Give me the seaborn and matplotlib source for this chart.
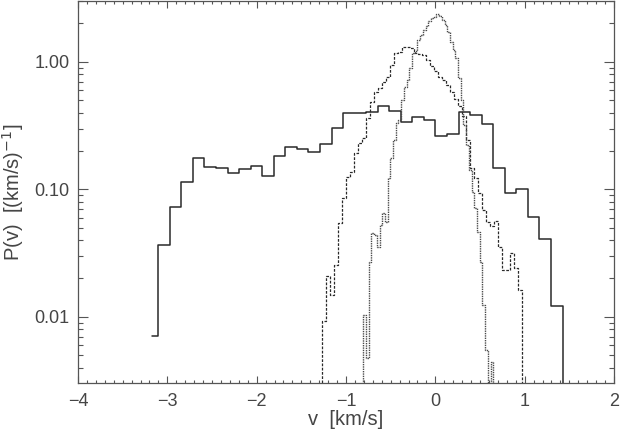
import numpy as np
import pandas as pd
import matplotlib
matplotlib.use('Agg')
import matplotlib.pyplot as plt
import matplotlib.ticker as mticker
import seaborn as sns

# ------------------------------------------------------------
# Data: histogram values P(v)
# ------------------------------------------------------------
# wide distribution (solid), bins of ~0.129 km/s starting at v=-3.166
solid_v0, solid_dv = -3.166, 0.1293
solid_p = [0.0071, 0.0367, 0.0725, 0.1145, 0.1766, 0.150, 0.148, 0.1346,
           0.1456, 0.1537, 0.1268, 0.181, 0.2167, 0.208, 0.197, 0.2275,
           0.302, 0.400, 0.400, 0.405, 0.452, 0.413, 0.336, 0.372,
           0.349, 0.264, 0.272, 0.405, 0.382, 0.326, 0.148, 0.094,
           0.100, 0.0612, 0.0407, 0.0122, 0.0]

# medium distribution (dashed), bins of ~0.045 km/s starting at v=-1.25
dash_v0, dash_dv = -1.25, 0.0448
dash_p = [0.0, 0.0092, 0.0211, 0.0149, 0.0256, 0.0549, 0.0853, 0.126, 0.1364,
          0.1923, 0.2296, 0.2512, 0.3618, 0.4814, 0.585, 0.622, 0.7006,
          0.7586, 0.947, 1.170, 1.204, 1.299, 1.299, 1.295, 1.176, 1.149,
          1.124, 1.037, 0.930, 0.850, 0.763, 0.722, 0.660, 0.582, 0.513,
          0.452, 0.377, 0.2445, 0.1475, 0.1225, 0.0933, 0.069, 0.0556,
          0.0517, 0.0566, 0.0354, 0.0234, 0.0234, 0.0318, 0.0241, 0.0163,
          0.0]

# narrow distribution (dotted), bins of ~0.030 km/s starting at v=-0.79
dot_v0, dot_dv = -0.791, 0.0303
dot_p = [0.0, 0.0104, 0.0048, 0.0270, 0.0456, 0.0440, 0.0354, 0.0527, 0.0654,
         0.0556, 0.1231, 0.1767, 0.2445, 0.3324, 0.351, 0.5035, 0.637,
         0.722, 0.897, 1.176, 1.22, 1.488, 1.628, 1.782, 1.898, 2.097,
         2.194, 2.254, 2.379, 2.296, 2.135, 1.950, 1.719, 1.435, 1.242,
         1.075, 0.749, 0.5035, 0.3206, 0.2234, 0.1422, 0.0956, 0.0716,
         0.0464, 0.0270, 0.0124, 0.0055, 0.0, 0.0044, 0.0]


def centres(v0, dv, p, lead_zero):
    start = v0 - dv if lead_zero else v0
    return start + dv * np.arange(len(p))


solid = pd.DataFrame({'v': centres(solid_v0, solid_dv, solid_p, False), 'p': solid_p})
dash = pd.DataFrame({'v': centres(dash_v0, dash_dv, dash_p, True), 'p': dash_p})
dot = pd.DataFrame({'v': centres(dot_v0, dot_dv, dot_p, True), 'p': dot_p})

# ------------------------------------------------------------
# Figure
# ------------------------------------------------------------
sns.set_style('ticks')
plt.rcParams['font.family'] = ['Liberation Sans', 'DejaVu Sans']
text_col = '#454545'
line_col = '#2a2a2a'

fig = plt.figure(figsize=(6.21, 4.37), dpi=100)
ax = fig.add_axes([0.1256, 0.1236, 0.8631, 0.8741])

sns.lineplot(data=solid, x='v', y='p', ax=ax, estimator=None, sort=False,
             color=line_col, lw=1.1, drawstyle='steps-mid')
sns.lineplot(data=dash, x='v', y='p', ax=ax, estimator=None, sort=False,
             color=line_col, lw=0.9, drawstyle='steps-mid',
             linestyle=(0, (2.2, 1.2)))
sns.lineplot(data=dot, x='v', y='p', ax=ax, estimator=None, sort=False,
             color='#4a4a4a', lw=1.0, drawstyle='steps-mid',
             linestyle=(0, (1, 0.7)))

ax.set_yscale('log')
ax.set_xlim(-4, 2)
ax.set_ylim(0.00303, 3.0)

ax.xaxis.set_major_locator(mticker.MultipleLocator(1))
ax.xaxis.set_minor_locator(mticker.MultipleLocator(0.1))
ax.yaxis.set_major_locator(mticker.FixedLocator([0.01, 0.1, 1.0]))
ax.yaxis.set_major_formatter(mticker.FixedFormatter(['0.01', '0.10', '1.00']))
ax.yaxis.set_minor_locator(mticker.LogLocator(base=10, subs=np.arange(2, 10)))
ax.yaxis.set_minor_formatter(mticker.NullFormatter())

ax.tick_params(which='both', direction='in', top=True, right=True,
               color='#555555', width=0.8, labelcolor=text_col, labelsize=13)
ax.tick_params(axis='y', which='major', length=7, pad=6)
ax.tick_params(axis='y', which='minor', length=3.5)
ax.tick_params(axis='x', which='major', length=5, pad=7)
ax.tick_params(axis='x', which='minor', length=2.5)

for s in ax.spines.values():
    s.set_color('#555555')
    s.set_linewidth(0.9)

ax.set_xlabel('v  [km/s]', fontsize=14.5, color=text_col, labelpad=0)
ax.set_ylabel('P(v)  [(km/s)$^{-1}$]', fontsize=14.5, color=text_col, labelpad=6)

fig.savefig('out.png', dpi=100)
